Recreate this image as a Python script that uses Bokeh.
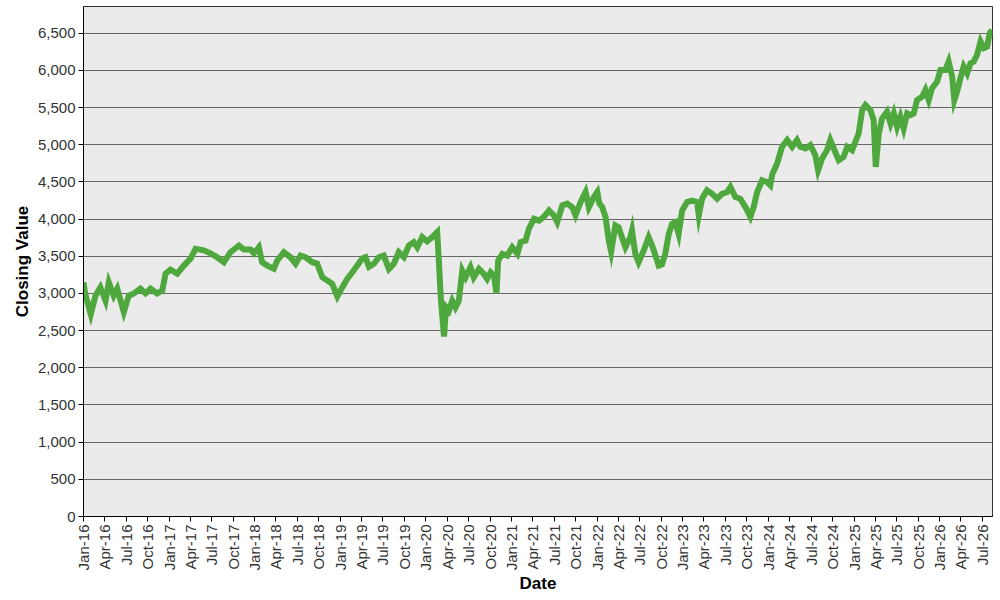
import pandas as pd
from bokeh.plotting import figure
from bokeh.models import FixedTicker, NumeralTickFormatter, DatetimeTickFormatter, Range1d
from bokeh.embed import file_html
from bokeh.resources import INLINE

dates = [
    "2016-01-01", "2016-01-08", "2016-02-01", "2016-02-21", "2016-03-13", "2016-04-04",
    "2016-04-18", "2016-05-09", "2016-05-24", "2016-06-21", "2016-07-12", "2016-08-03",
    "2016-08-31", "2016-09-22", "2016-10-13", "2016-11-10", "2016-12-02", "2016-12-16",
    "2017-01-06", "2017-02-04", "2017-03-04", "2017-04-02", "2017-04-23", "2017-05-28",
    "2017-06-26", "2017-07-24", "2017-08-22", "2017-09-19", "2017-10-25", "2017-11-15",
    "2017-12-14", "2017-12-28", "2018-01-18", "2018-02-01", "2018-02-23", "2018-03-23",
    "2018-04-06", "2018-05-05", "2018-06-02", "2018-06-24", "2018-07-15", "2018-08-05",
    "2018-09-03", "2018-09-24", "2018-10-16", "2018-11-06", "2018-11-27", "2018-12-19",
    "2019-01-09", "2019-01-30", "2019-02-21", "2019-03-14", "2019-04-04", "2019-04-18",
    "2019-05-03", "2019-05-24", "2019-06-14", "2019-07-05", "2019-07-27", "2019-08-17",
    "2019-09-07", "2019-09-29", "2019-10-20", "2019-11-10", "2019-11-25", "2019-12-16",
    "2020-01-06", "2020-01-28", "2020-02-18", "2020-02-25", "2020-03-05", "2020-03-18",
    "2020-03-27", "2020-04-08", "2020-04-22", "2020-05-06", "2020-05-20", "2020-06-04",
    "2020-06-18", "2020-07-09", "2020-07-23", "2020-08-14", "2020-09-04", "2020-09-18",
    "2020-10-03", "2020-10-17", "2020-10-28", "2020-11-04", "2020-11-22", "2020-12-13",
    "2021-01-03", "2021-01-25", "2021-02-08", "2021-03-01", "2021-03-15", "2021-04-06",
    "2021-04-27", "2021-05-18", "2021-06-09", "2021-06-30", "2021-07-14", "2021-08-05",
    "2021-08-26", "2021-09-16", "2021-09-30", "2021-10-22", "2021-11-12", "2021-11-26",
    "2021-12-18", "2022-01-01", "2022-01-10", "2022-01-22", "2022-02-05", "2022-02-19",
    "2022-03-01", "2022-03-19", "2022-04-02", "2022-04-16", "2022-05-01", "2022-05-22",
    "2022-05-29", "2022-06-12", "2022-06-26", "2022-07-18", "2022-08-08", "2022-08-23",
    "2022-09-06", "2022-09-20", "2022-10-04", "2022-10-18", "2022-11-02", "2022-11-16",
    "2022-11-30", "2022-12-14", "2022-12-29", "2023-01-19", "2023-02-09", "2023-03-03",
    "2023-03-10", "2023-03-24", "2023-04-14", "2023-05-06", "2023-05-27", "2023-06-17",
    "2023-07-09", "2023-07-23", "2023-08-13", "2023-09-03", "2023-09-25", "2023-10-16",
    "2023-10-30", "2023-11-14", "2023-12-05", "2023-12-26", "2024-01-09", "2024-01-17",
    "2024-02-07", "2024-02-28", "2024-03-21", "2024-04-11", "2024-05-02", "2024-05-16",
    "2024-06-07", "2024-06-28", "2024-07-19", "2024-07-31", "2024-08-17", "2024-09-07",
    "2024-09-21", "2024-10-06", "2024-10-27", "2024-11-17", "2024-12-02", "2024-12-23",
    "2025-01-06", "2025-01-20", "2025-02-04", "2025-02-18", "2025-03-11", "2025-03-25",
    "2025-04-03", "2025-04-16", "2025-04-30", "2025-05-21", "2025-06-05", "2025-06-19",
    "2025-07-03", "2025-07-17", "2025-07-31", "2025-08-15", "2025-08-29", "2025-09-12",
    "2025-09-26", "2025-10-18", "2025-11-01", "2025-11-15", "2025-11-29", "2025-12-21",
    "2026-01-04", "2026-01-25", "2026-02-08", "2026-02-23", "2026-03-04", "2026-03-16",
    "2026-03-30", "2026-04-13", "2026-04-28", "2026-05-12", "2026-05-26", "2026-06-09",
    "2026-06-24", "2026-07-08", "2026-07-22", "2026-08-02", "2026-08-12",
]

closing = [
    3150, 3000, 2720, 2970, 3082, 2902,
    3150, 2970, 3064, 2750, 2970, 3000,
    3064, 3000, 3064, 3000, 3040, 3267,
    3320, 3267, 3375, 3470, 3600, 3580,
    3540, 3487, 3420, 3555, 3645, 3590,
    3590, 3540, 3622, 3420, 3375, 3333,
    3440, 3555, 3487, 3400, 3510, 3487,
    3420, 3400, 3217, 3175, 3130, 2960,
    3082, 3195, 3285, 3375, 3470, 3487,
    3360, 3400, 3487, 3510, 3330, 3400,
    3555, 3490, 3645, 3690, 3620, 3757,
    3700, 3757, 3825, 3440, 2900, 2420,
    2812, 2767, 2900, 2812, 2900, 3307,
    3217, 3352, 3217, 3330, 3262, 3195,
    3285, 3240, 3000, 3442, 3533, 3510,
    3622, 3533, 3690, 3710, 3870, 4005,
    3980, 4030, 4117, 4050, 3960, 4185,
    4208, 4160, 4050, 4230, 4365, 4160,
    4300, 4365, 4208, 4162, 4028, 3712,
    3560, 3915, 3890, 3757, 3622, 3757,
    3850, 3533, 3420, 3577, 3757, 3645,
    3510, 3375, 3390, 3533, 3802, 3937,
    3960, 3800, 4117, 4230, 4250, 4230,
    4050, 4275, 4387, 4340, 4275, 4340,
    4365, 4432, 4297, 4275, 4162, 4030,
    4162, 4365, 4522, 4500, 4455, 4600,
    4747, 4972, 5063, 4972, 5063, 4972,
    4950, 4995, 4860, 4657, 4815, 4927,
    5063, 4950, 4792, 4837, 4972, 4927,
    5040, 5152, 5467, 5535, 5467, 5333,
    4702, 5152, 5355, 5445, 5287, 5422,
    5242, 5377, 5220, 5422, 5400, 5422,
    5602, 5647, 5737, 5602, 5760, 5850,
    6007, 6007, 6120, 5917, 5600, 5715,
    5895, 6052, 5962, 6097, 6120, 6210,
    6390, 6300, 6320, 6500, 6545,
]

y_ticks = list(range(0, 7000, 500))
x_tick_dates = pd.date_range("2016-01-01", "2026-07-01", freq="QS")

x = pd.to_datetime(dates)

p = figure(
    width=998, height=598,
    x_axis_type="datetime",
    output_backend="svg",
    toolbar_location=None,
    x_range=Range1d(pd.Timestamp("2016-01-01"), pd.Timestamp("2026-08-14")),
    y_range=Range1d(0, 6860),
    min_border_left=83, min_border_right=6, min_border_top=6, min_border_bottom=82,
)

p.background_fill_color = "#EBEBEB"
p.border_fill_color = "white"
p.outline_line_color = "#333333"
p.outline_line_width = 1

p.line(x, closing, line_color="#4FA83D", line_width=6, line_join="miter")

p.xgrid.grid_line_color = None
p.ygrid.grid_line_color = "#666666"
p.ygrid.grid_line_width = 1

p.yaxis.ticker = FixedTicker(ticks=y_ticks)
p.yaxis.formatter = NumeralTickFormatter(format="0,0")
p.xaxis.ticker = FixedTicker(ticks=[d.value / 1e6 for d in x_tick_dates])
p.xaxis.formatter = DatetimeTickFormatter(days="%b-%y", months="%b-%y", years="%b-%y")
p.xaxis.major_label_orientation = 3.14159265 / 2

for ax in (p.xaxis, p.yaxis):
    ax.axis_line_color = "black"
    ax.axis_line_width = 1
    ax.major_tick_line_color = "black"
    ax.major_tick_out = 5
    ax.major_tick_in = 0
    ax.minor_tick_line_color = None
    ax.major_label_text_font = "Liberation Sans"
    ax.major_label_text_font_size = "15px"
    ax.major_label_text_color = "#333333"
    ax.axis_label_text_font = "Liberation Sans"
    ax.axis_label_text_font_size = "17px"
    ax.axis_label_text_font_style = "bold"
    ax.axis_label_text_color = "black"

p.xaxis.axis_label = "Date"
p.yaxis.axis_label = "Closing Value"
p.xaxis.major_label_standoff = 3
p.yaxis.major_label_standoff = 3
p.xaxis.axis_label_standoff = 1
p.yaxis.axis_label_standoff = 3

open("out.html", "w").write(file_html(p, INLINE))
